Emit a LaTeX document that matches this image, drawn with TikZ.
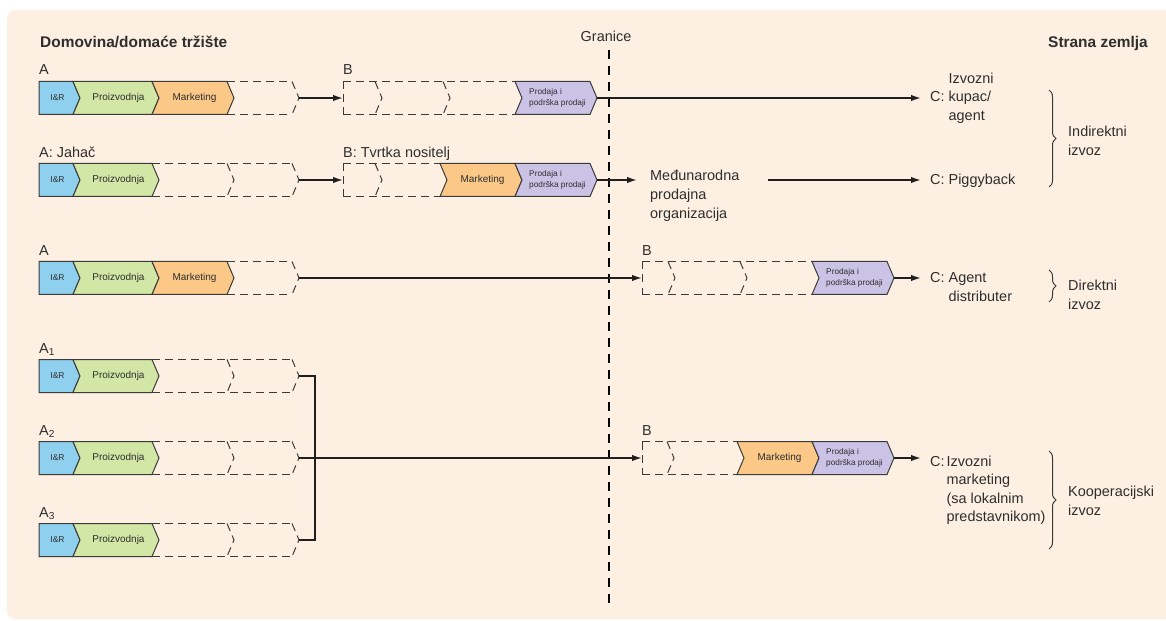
\documentclass[tikz,border=0pt]{standalone}
\usepackage{fontspec}
\setmainfont{Liberation Sans}
\usetikzlibrary{arrows.meta,decorations.pathreplacing,calc}
\definecolor{bg}{HTML}{FDF0E2}
\definecolor{cir}{HTML}{8ED0EE}
\definecolor{cpro}{HTML}{D2E6A5}
\definecolor{cmkt}{HTML}{FBC887}
\definecolor{cps}{HTML}{CBC3E6}
\definecolor{ink}{HTML}{2E2E2E}
\definecolor{edge}{HTML}{3A3A3A}
\tikzset{
 segline/.style={draw=edge, line width=1bp, line join=miter},
 dashline/.style={draw=edge, line width=1bp, dash pattern=on 8bp off 5bp},
 lbl/.style={font=\fontsize{14.5}{18.7}\selectfont, text=ink, inner sep=0pt},
 ttl/.style={font=\fontsize{15.5}{18}\selectfont\bfseries, text=ink, inner sep=0pt},
 segtxt/.style={font=\fontsize{10}{12}\selectfont, text=ink, inner sep=0pt},
 irtxt/.style={font=\fontsize{8.5}{10}\selectfont, text=ink, inner sep=0pt},
 pstxt/.style={font=\fontsize{8.3}{10.5}\selectfont, text=ink, inner sep=0pt, align=left},
 arr/.style={draw=black!88, line width=1.7bp, -{Latex[length=10bp,width=6.5bp]}},
 conn/.style={draw=black!88, line width=2.2bp},
 border/.style={draw=black, line width=2.5bp, dash pattern=on 9bp off 7bp},
 brc/.style={draw=edge, line width=1bp, decorate, decoration={brace, amplitude=7bp}},
}
\newcommand{\segfirst}[4]{\path[segline, fill=#4] (#1,#3-16.5) -- (#2,#3-16.5) -- (#2+7,#3) -- (#2,#3+16.5) -- (#1,#3+16.5) -- cycle;}
\newcommand{\segnotch}[4]{\path[segline, fill=#4] (#1,#3-16.5) -- (#2,#3-16.5) -- (#2+7,#3) -- (#2,#3+16.5) -- (#1,#3+16.5) -- (#1+7,#3) -- cycle;}
\newcommand{\dashtb}[3]{\draw[dashline] (#1,#3-16.5) -- (#2,#3-16.5); \draw[dashline] (#1,#3+16.5) -- (#2,#3+16.5);}
\newcommand{\dashchev}[2]{\draw[dashline] (#1,#2-16.5) -- (#1+7,#2) -- (#1,#2+16.5);}
\newcommand{\dashleft}[2]{\draw[dashline] (#1,#2-16.5) -- (#1,#2+16.5);}
\newcommand{\arowfull}[2]{%
  \dashtb{227}{292}{#1}\dashchev{292}{#1}
  \segfirst{39}{73}{#1}{cir}\segnotch{73}{152}{#1}{cpro}\segnotch{152}{227}{#1}{cmkt}
  \node[irtxt] (#2ir) at (57.5,#1) {I\&R};
  \node[segtxt] (#2pr) at (118.5,#1) {Proizvodnja};
  \node[segtxt] (#2mk) at (194.5,#1) {Marketing};
  \coordinate (#2e) at (299,#1);}
\newcommand{\arowshort}[2]{%
  \dashtb{152}{292}{#1}\dashchev{227}{#1}\dashchev{292}{#1}
  \segfirst{39}{73}{#1}{cir}\segnotch{73}{152}{#1}{cpro}
  \node[irtxt] (#2ir) at (57.5,#1) {I\&R};
  \node[segtxt] (#2pr) at (118.5,#1) {Proizvodnja};
  \coordinate (#2e) at (299,#1);}
\begin{document}
\begin{tikzpicture}[x=1bp,y=-1bp]
\useasboundingbox (0,0) rectangle (1166,621);
\fill[bg, rounded corners=9bp] (7,10) rectangle (1190,619);

% titles
\node[ttl, anchor=base west] (home) at (40,48) {Domovina/domaće tržište};
\node[lbl, anchor=base] (gran) at (606,42) {Granice};
\node[ttl, anchor=base west] (abroad) at (1048,48) {Strana zemlja};
\draw[border] (609,50) -- (609,604);

% ---------- row 1 ----------
\node[lbl, anchor=base west] (la1) at (39,75) {A};
\arowfull{98}{r1}
\node[lbl, anchor=base west] (lb1) at (343,75) {B};
\dashtb{343}{515}{98}\dashleft{343}{98}\dashchev{375}{98}\dashchev{443}{98}
\segnotch{515}{590}{98}{cps}
\node[pstxt] (b1ps) at (557.5,98) {Prodaja i\\podrška prodaji};
\coordinate (b1s) at (343,98);
\coordinate (b1e) at (597,98);
\node[lbl, anchor=west] (c1) at (930,98) {C: \begin{tabular}{@{}l@{}}Izvozni\\kupac/\\agent\end{tabular}};

% ---------- row 2 ----------
\node[lbl, anchor=base west] (la2) at (39,158) {A: Jahač};
\arowshort{180}{r2}
\node[lbl, anchor=base west] (lb2) at (343,158) {B: Tvrtka nositelj};
\dashtb{343}{440}{180}\dashleft{343}{180}\dashchev{375}{180}
\segnotch{440}{515}{180}{cmkt}\segnotch{515}{590}{180}{cps}
\node[segtxt] (b2mk) at (482.5,180) {Marketing};
\node[pstxt] (b2ps) at (557.5,180) {Prodaja i\\podrška prodaji};
\coordinate (b2s) at (343,180);
\coordinate (b2e) at (597,180);
\node[lbl, anchor=base west] (mo) at (650,181) {\begin{tabular}[t]{@{}l@{}}Međunarodna\\prodajna\\organizacija\end{tabular}};
\node[lbl, anchor=base west] (c2) at (930,185) {C: Piggyback};

% ---------- row 3 ----------
\node[lbl, anchor=base west] (la3) at (39,255.5) {A};
\arowfull{278}{r3}
\node[lbl, anchor=base west] (lb3) at (642,255.5) {B};
\dashtb{642}{812}{278}\dashleft{642}{278}\dashchev{668}{278}\dashchev{740}{278}
\segnotch{812}{887}{278}{cps}
\node[pstxt] (b3ps) at (854.5,278) {Prodaja i\\podrška prodaji};
\coordinate (b3s) at (642,278);
\coordinate (b3e) at (894,278);
\node[lbl, anchor=base west] (c3) at (930,283) {C: \begin{tabular}[t]{@{}l@{}}Agent\\distributer\end{tabular}};

% ---------- rows 4-6 ----------
\node[lbl, anchor=base west] (la4) at (39,353) {A\textsubscript{1}};
\arowshort{376}{r4}
\node[lbl, anchor=base west] (la5) at (39,435) {A\textsubscript{2}};
\arowshort{458}{r5}
\node[lbl, anchor=base west] (la6) at (39,517) {A\textsubscript{3}};
\arowshort{540}{r6}

\node[lbl, anchor=base west] (lb5) at (642,435) {B};
\dashtb{642}{737}{458}\dashleft{642}{458}\dashchev{667}{458}
\segnotch{737}{812}{458}{cmkt}\segnotch{812}{887}{458}{cps}
\node[segtxt] (b5mk) at (779.5,458) {Marketing};
\node[pstxt] (b5ps) at (854.5,458) {Prodaja i\\podrška prodaji};
\coordinate (b5s) at (642,458);
\coordinate (b5e) at (894,458);
\node[lbl, anchor=base west] (c5) at (930,466) {C:\hspace{2bp}\begin{tabular}[t]{@{}l@{}}Izvozni\\marketing\\(sa lokalnim\\predstavnikom)\end{tabular}};

% ---------- connectors ----------
\draw[arr] (r1e) -- (b1s);
\draw[arr] (b1e) -- ($(c1.west |- b1e)+(-9,0)$);
\draw[arr] (r2e) -- (b2s);
\draw[arr] (b2e) -- ($(mo.west |- b2e)+(-13,0)$);
\draw[arr] ($(mo.east |- b2e)+(28,0)$) -- ($(c2.west |- b2e)+(-9,0)$);
\draw[arr] (r3e) -- (b3s);
\draw[arr] (b3e) -- ($(c3.west |- b3e)+(-9,0)$);
\draw[conn] (r4e) -- ++(16,0) |- (r6e);
\draw[arr] (r5e) -- (b5s);
\draw[arr] (b5e) -- ($(c5.west |- b5e)+(-9,0)$);

% ---------- braces ----------
\draw[brc] (1049,90) -- (1049,187);
\node[lbl, anchor=west] (gind) at (1068,142) {\begin{tabular}{@{}l@{}}Indirektni\\izvoz\end{tabular}};
\draw[brc] (1049,270) -- (1049,302);
\node[lbl, anchor=west] (gdir) at (1068,296) {\begin{tabular}{@{}l@{}}Direktni\\izvoz\end{tabular}};
\draw[brc] (1049,451) -- (1049,549);
\node[lbl, anchor=west] (gkoo) at (1068,502) {\begin{tabular}{@{}l@{}}Kooperacijski\\izvoz\end{tabular}};
\end{tikzpicture}
\end{document}
